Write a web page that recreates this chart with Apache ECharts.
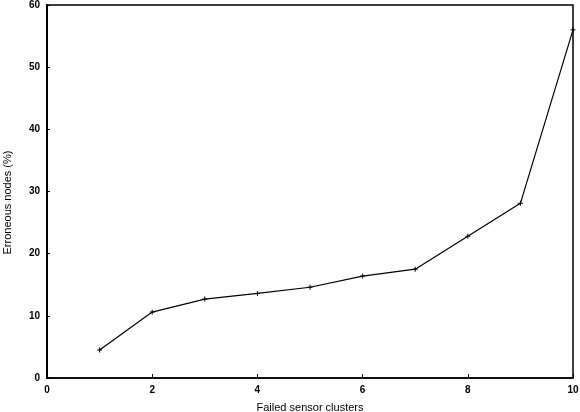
<!DOCTYPE html>
<html>
<head>
<meta charset="utf-8">
<script src="https://cdn.jsdelivr.net/npm/echarts@6/dist/echarts.min.js"></script>
<style>
  html, body { margin: 0; padding: 0; background: #fff; }
  #chart { width: 580px; height: 412px; }
</style>
</head>
<body>
<div id="chart"></div>
<script>
// failed clusters vs erroneous nodes
const clusters = [1, 2, 3, 4, 5, 6, 7, 8, 9, 10];
const erroneous = [4.5, 10.6, 12.7, 13.6, 14.6, 16.4, 17.5, 22.8, 28.1, 56];
const xTicks = [0, 2, 4, 6, 8, 10];
const yTicks = [0, 10, 20, 30, 40, 50, 60];

const font = 'Liberation Sans, Arial, sans-serif';
const plus = 'path://M0,5L10,5M5,0L5,10';

const chart = echarts.init(document.getElementById('chart'));
chart.setOption({
  animation: false,
  grid: {
    left: 47, right: 7, top: 5, bottom: 34,
    outerBoundsMode: 'none', containLabel: false,
    show: true, borderColor: '#000', borderWidth: 1.5
  },
  xAxis: {
    type: 'value',
    min: xTicks[0], max: xTicks[xTicks.length - 1], interval: 2,
    name: 'Failed sensor clusters',
    nameLocation: 'middle', nameGap: 24,
    nameTextStyle: { color: '#000', fontFamily: font, fontSize: 11 },
    axisLine: { lineStyle: { color: '#000', width: 1.5 } },
    axisTick: { inside: true, length: 4, lineStyle: { color: '#000' } },
    axisLabel: { color: '#000', fontFamily: font, fontSize: 10, margin: 7, fontWeight: 'bold' },
    splitLine: { show: false }
  },
  yAxis: {
    type: 'value',
    min: yTicks[0], max: yTicks[yTicks.length - 1], interval: 10,
    name: 'Erroneous nodes (%)',
    nameLocation: 'middle', nameGap: 34,
    nameTextStyle: { color: '#000', fontFamily: font, fontSize: 11, padding: [0, 22, 0, 0] },
    axisLine: { lineStyle: { color: '#000', width: 2 } },
    axisTick: { inside: true, length: 3, lineStyle: { color: '#000' } },
    axisLabel: { color: '#000', fontFamily: font, fontSize: 10, margin: 7, fontWeight: 'bold' },
    splitLine: { show: false }
  },
  series: [{
    type: 'line',
    data: clusters.map((c, i) => [c, erroneous[i]]),
    lineStyle: { color: '#000', width: 1.2 },
    itemStyle: { color: '#000', borderColor: '#000' },
    symbol: plus,
    symbolSize: 5,
    showAllSymbol: true
  }]
});
</script>
</body>
</html>
